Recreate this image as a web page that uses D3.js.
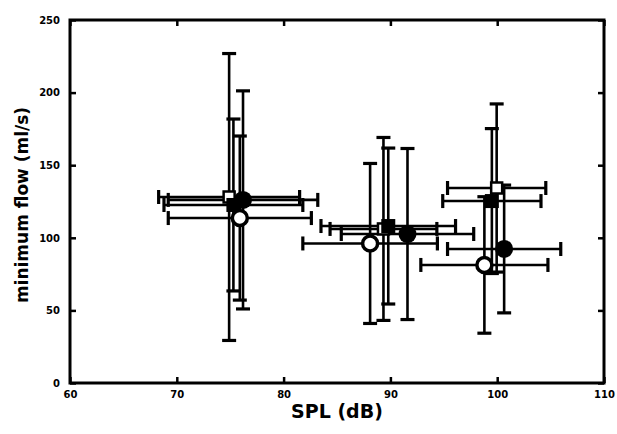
<!DOCTYPE html>
<html>
<head>
<meta charset="utf-8">
<script src="https://cdn.jsdelivr.net/npm/d3@7"></script>
<style>
  body { margin: 0; background: #fff; }
  svg text { font-family: "DejaVu Sans", Arial, sans-serif; font-weight: bold; fill: #000; }
</style>
</head>
<body>
<svg id="chart" width="617" height="434"></svg>
<script>
// series: open square, filled square, filled circle, open circle
var openSquare = [
  {x: 74.9, xerr: 6.6, y: 128.1, yerr: 98.8},
  {x: 89.35, xerr: 5.0, y: 106.1, yerr: 63.0},
  {x: 99.95, xerr: 4.6, y: 134.3, yerr: 57.9}
];
var filledSquare = [
  {x: 75.3, xerr: 6.5, y: 122.6, yerr: 59.2},
  {x: 89.8, xerr: 6.3, y: 108.1, yerr: 53.7},
  {x: 99.5, xerr: 4.6, y: 125.3, yerr: 49.9}
];
var filledCircle = [
  {x: 76.2, xerr: 7.0, y: 126.1, yerr: 75.1},
  {x: 91.6, xerr: 6.2, y: 102.6, yerr: 58.9},
  {x: 100.65, xerr: 5.3, y: 92.3, yerr: 44.0}
];
var openCircle = [
  {x: 75.9, xerr: 6.7, y: 113.6, yerr: 56.5},
  {x: 88.1, xerr: 6.3, y: 96.1, yerr: 55.1},
  {x: 98.8, xerr: 5.95, y: 81.3, yerr: 47.0}
];
var xTicks = [60, 70, 80, 90, 100, 110];
var yTicks = [0, 50, 100, 150, 200, 250];

var svg = d3.select("#chart");
var plotL = 70, plotR = 604, plotT = 20, plotB = 383;

var x = d3.scaleLinear().domain([60, 110]).range([plotL, plotR]);
var y = d3.scaleLinear().domain([0, 250]).range([plotB, plotT]);

// frame
svg.append("rect")
  .attr("x", plotL).attr("y", plotT)
  .attr("width", plotR - plotL).attr("height", plotB - plotT)
  .attr("fill", "none").attr("stroke", "#000").attr("stroke-width", 3);

// ticks, inward on all sides
function styleAxis(g) {
  g.select(".domain").remove();
  g.selectAll(".tick line").attr("stroke", "#000").attr("stroke-width", 2.5);
  g.selectAll(".tick text").attr("font-size", 10);
}
svg.append("g").attr("transform", "translate(0," + plotB + ")")
  .call(d3.axisBottom(x).tickValues(xTicks).tickSize(-6).tickPadding(8))
  .call(styleAxis);
svg.append("g").attr("transform", "translate(0," + plotT + ")")
  .call(d3.axisTop(x).tickValues(xTicks).tickSize(-6).tickFormat(""))
  .call(styleAxis);
svg.append("g").attr("transform", "translate(" + plotL + ",0)")
  .call(d3.axisLeft(y).tickValues(yTicks).tickSize(-6).tickPadding(10))
  .call(styleAxis);
svg.append("g").attr("transform", "translate(" + plotR + ",0)")
  .call(d3.axisRight(y).tickValues(yTicks).tickSize(-6).tickFormat(""))
  .call(styleAxis);

// axis titles
svg.append("text")
  .attr("x", 337).attr("y", 418)
  .attr("text-anchor", "middle").attr("font-size", 19)
  .text("SPL (dB)");
svg.append("text")
  .attr("transform", "translate(28,205) rotate(-90)")
  .attr("text-anchor", "middle").attr("font-size", 17)
  .text("minimum flow (ml/s)");

// error bars
var cap = 7;
function errorBars(data) {
  var g = svg.append("g").attr("stroke", "#000").attr("stroke-width", 2.6).attr("fill", "none");
  data.forEach(function(d) {
    var cx = x(d.x), cy = y(d.y);
    var x1 = x(d.x - d.xerr), x2 = x(d.x + d.xerr);
    var y1 = y(d.y + d.yerr), y2 = y(d.y - d.yerr);
    g.append("line").attr("x1", x1).attr("x2", x2).attr("y1", cy).attr("y2", cy);
    g.append("line").attr("x1", cx).attr("x2", cx).attr("y1", y1).attr("y2", y2);
    g.append("line").attr("x1", x1).attr("x2", x1).attr("y1", cy - cap).attr("y2", cy + cap).attr("stroke-width", 3.2);
    g.append("line").attr("x1", x2).attr("x2", x2).attr("y1", cy - cap).attr("y2", cy + cap).attr("stroke-width", 3.2);
    g.append("line").attr("x1", cx - cap).attr("x2", cx + cap).attr("y1", y1).attr("y2", y1).attr("stroke-width", 3.2);
    g.append("line").attr("x1", cx - cap).attr("x2", cx + cap).attr("y1", y2).attr("y2", y2).attr("stroke-width", 3.2);
  });
}
[openSquare, filledSquare, filledCircle, openCircle].forEach(errorBars);

// markers
svg.append("g").selectAll("rect").data(openSquare).join("rect")
  .attr("x", function(d) { return x(d.x) - 5.5; })
  .attr("y", function(d) { return y(d.y) - 5.5; })
  .attr("width", 11).attr("height", 11)
  .attr("fill", "#fff").attr("stroke", "#000").attr("stroke-width", 2.5);
svg.append("g").selectAll("rect").data(filledSquare).join("rect")
  .attr("x", function(d) { return x(d.x) - 7; })
  .attr("y", function(d) { return y(d.y) - 7; })
  .attr("width", 14).attr("height", 14)
  .attr("fill", "#000");
svg.append("g").selectAll("circle").data(filledCircle).join("circle")
  .attr("cx", function(d) { return x(d.x); })
  .attr("cy", function(d) { return y(d.y); })
  .attr("r", 9).attr("fill", "#000");
svg.append("g").selectAll("circle").data(openCircle).join("circle")
  .attr("cx", function(d) { return x(d.x); })
  .attr("cy", function(d) { return y(d.y); })
  .attr("r", 7.5).attr("fill", "#fff").attr("stroke", "#000").attr("stroke-width", 3.5);
</script>
</body>
</html>
